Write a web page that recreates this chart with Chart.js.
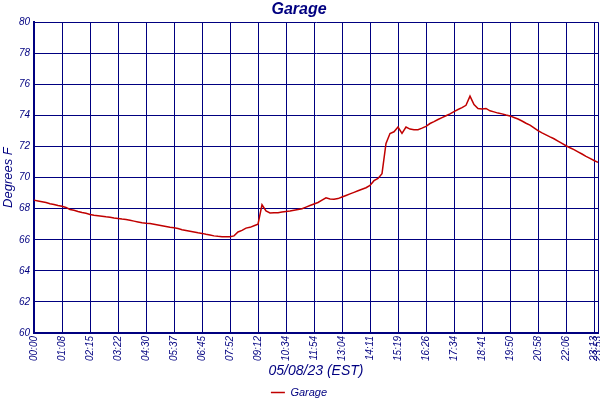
<!DOCTYPE html>
<html>
<head>
<meta charset="utf-8">
<script src="https://cdn.jsdelivr.net/npm/chart.js@4"></script>
<style>
  html, body { margin: 0; padding: 0; background: #ffffff; }
  #wrap { width: 600px; height: 400px; }
</style>
</head>
<body>
<div id="wrap"><canvas id="c" width="600" height="400"></canvas></div>
<script>
// Tick labels shown along the time axis (one every 7 samples, plus the final sample)
const timeTicks = ['00:00','01:08','02:15','03:22','04:30','05:37','06:45','07:52','09:12','10:34',
  '11:54','13:04','14:11','15:19','16:26','17:34','18:41','19:50','20:58','22:06','23:13','23:53'];
const samplesPerTick = 7;

// Garage temperature (°F), one value per sample
const garageTemps = [
  68.55,68.50,68.45,68.40,68.32,68.27,68.20,68.15,68.08,67.95,
  67.90,67.82,67.75,67.70,67.63,67.58,67.55,67.52,67.48,67.45,
  67.40,67.37,67.33,67.30,67.25,67.20,67.15,67.10,67.07,67.05,
  67.00,66.95,66.90,66.85,66.80,66.77,66.72,66.65,66.60,66.55,
  66.50,66.45,66.41,66.35,66.30,66.25,66.22,66.20,66.20,66.20,
  66.25,66.50,66.60,66.75,66.80,66.90,67.00,68.25,67.85,67.72,
  67.74,67.74,67.78,67.82,67.85,67.90,67.95,68.00,68.10,68.20,
  68.30,68.40,68.55,68.70,68.62,68.60,68.65,68.75,68.85,68.95,
  69.05,69.15,69.25,69.35,69.50,69.80,69.95,70.25,72.20,72.84,
  72.95,73.25,72.85,73.25,73.12,73.08,73.08,73.18,73.30,73.48,
  73.60,73.74,73.86,73.98,74.10,74.25,74.38,74.50,74.65,75.24,
  74.70,74.45,74.42,74.45,74.30,74.23,74.15,74.10,74.03,73.97,
  73.87,73.77,73.64,73.50,73.38,73.20,73.02,72.88,72.75,72.62,
  72.50,72.35,72.20,72.05,71.92,71.80,71.66,71.52,71.37,71.24,
  71.10,70.98
];

const yMin = 60, yMax = 80, yStep = 2;
const chartTitle = 'Garage';
const xTitle = '05/08/23 (EST)';
const yTitle = 'Degrees F';
const seriesName = 'Garage';

// Category labels: a tick label every samplesPerTick samples, last sample gets the final label
const sampleLabels = garageTemps.map((v, i) => {
  if (i === garageTemps.length - 1) return timeTicks[timeTicks.length - 1];
  return (i % samplesPerTick === 0) ? (timeTicks[i / samplesPerTick] || '') : '';
});

const navy = '#000080';
const red = '#c00000';
const fam = '"Liberation Sans", Arial, sans-serif';

new Chart(document.getElementById('c'), {
  type: 'line',
  data: {
    labels: sampleLabels,
    datasets: [{
      label: seriesName,
      data: garageTemps,
      borderColor: red,
      backgroundColor: red,
      borderWidth: 1.5,
      pointRadius: 0,
      pointStyle: 'line',
      tension: 0,
      fill: false
    }]
  },
  options: {
    responsive: false,
    animation: false,
    devicePixelRatio: 1,
    layout: { padding: { left: 0, right: 2, top: 0, bottom: -8 } },
    plugins: {
      title: {
        display: true,
        text: chartTitle,
        color: navy,
        font: { family: fam, size: 16, weight: 'bold', style: 'italic' },
        padding: { top: 0, bottom: 3 }
      },
      legend: {
        display: true,
        position: 'bottom',
        labels: {
          color: navy,
          font: { family: fam, size: 11, style: 'italic' },
          usePointStyle: true,
          pointStyleWidth: 14,
          padding: 6
        }
      },
      tooltip: { enabled: false }
    },
    scales: {
      x: {
        type: 'category',
        offset: false,
        grid: {
          color: navy,
          lineWidth: (ctx) => (ctx.index === sampleLabels.length - 1 ? 2.5 : 1),
          drawTicks: false
        },
        border: { color: navy, width: 2 },
        ticks: {
          autoSkip: false,
          minRotation: 90,
          maxRotation: 90,
          padding: 3,
          color: navy,
          font: { family: fam, size: 10, style: 'italic' },
          callback: function (value, index) {
            const l = sampleLabels[index];
            return l ? l : null;
          }
        },
        title: {
          display: true,
          text: xTitle,
          color: navy,
          font: { family: fam, size: 14, style: 'italic' },
          padding: { top: 0, bottom: 1.5 }
        },
        afterFit: (scale) => {
          scale.height = 48;
          scale.paddingLeft = 0;
          scale.paddingRight = 0;
        }
      },
      y: {
        min: yMin,
        max: yMax,
        grid: { color: navy, lineWidth: 1, drawTicks: false },
        border: { color: navy, width: 2 },
        ticks: {
          stepSize: yStep,
          padding: 4,
          color: navy,
          font: { family: fam, size: 10, style: 'italic' }
        },
        title: {
          display: true,
          text: yTitle,
          color: navy,
          font: { family: fam, size: 13, style: 'italic' },
          padding: { top: 1, bottom: 0 }
        },
        afterFit: (scale) => {
          scale.width = 34;
          scale.paddingTop = 0;
          scale.paddingBottom = 0;
        }
      }
    }
  }
});
</script>
</body>
</html>
